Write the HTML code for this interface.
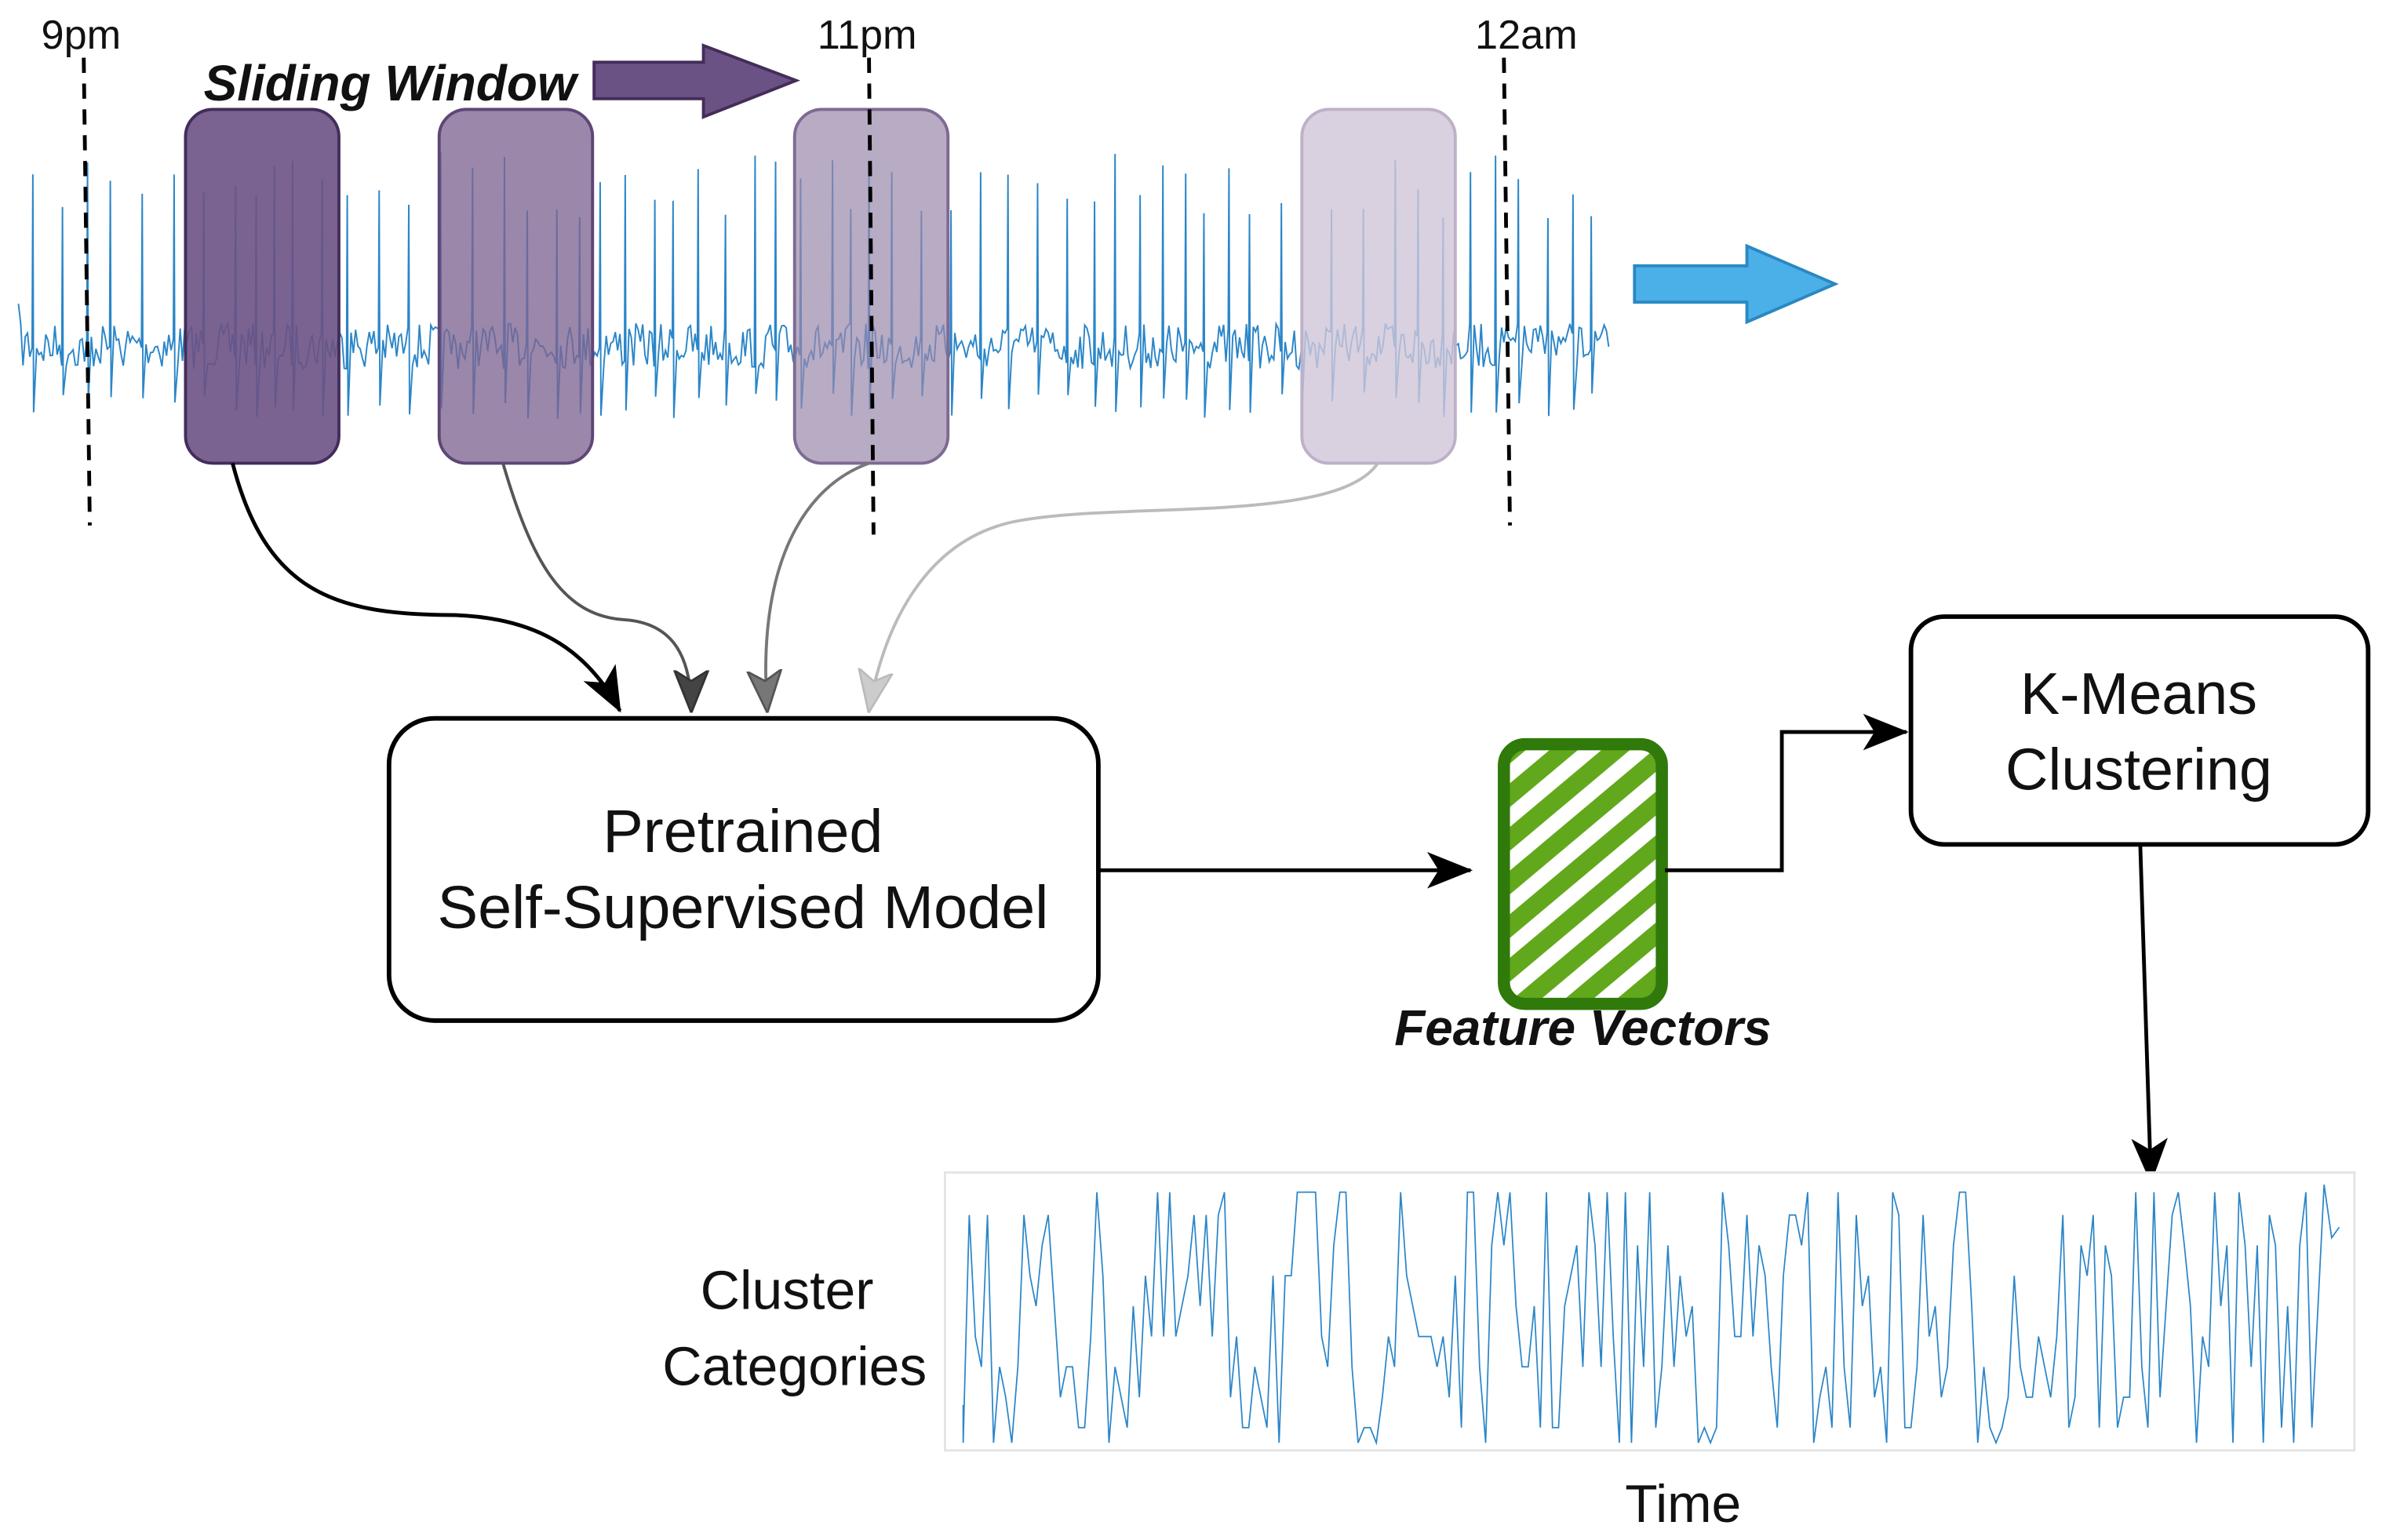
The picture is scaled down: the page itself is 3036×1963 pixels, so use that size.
<!DOCTYPE html>
<html><head><meta charset="utf-8"><style>
html,body{margin:0;padding:0;background:#fff;}
svg{display:block;}
text{font-family:"Liberation Sans",sans-serif;fill:#111;}
</style></head><body>
<svg id="s" width="3036" height="1963" viewBox="0 0 1568 1014" xmlns="http://www.w3.org/2000/svg">
<defs>
<marker id="mb" viewBox="0 0 20 20" refX="19" refY="10" markerWidth="30" markerHeight="30" markerUnits="userSpaceOnUse" orient="auto"><path d="M0,2 L20,10 L0,18 L5,10 Z" fill="#000"/></marker>
<marker id="m1" viewBox="0 0 20 20" refX="19" refY="10" markerWidth="28" markerHeight="28" markerUnits="userSpaceOnUse" orient="auto"><path d="M0,2 L20,10 L0,18 L5,10 Z" fill="#444" stroke="#333"/></marker>
<marker id="m2" viewBox="0 0 20 20" refX="19" refY="10" markerWidth="28" markerHeight="28" markerUnits="userSpaceOnUse" orient="auto"><path d="M0,2 L20,10 L0,18 L5,10 Z" fill="#777" stroke="#555"/></marker>
<marker id="m3" viewBox="0 0 20 20" refX="19" refY="10" markerWidth="28" markerHeight="28" markerUnits="userSpaceOnUse" orient="auto"><path d="M0,2 L20,10 L0,18 L5,10 Z" fill="#ccc" stroke="#bbb"/></marker>
<pattern id="hatch" width="22" height="22" patternUnits="userSpaceOnUse" patternTransform="rotate(-40)"><rect width="22" height="22" fill="#fff"/><rect width="22" height="12" fill="#62a81c"/></pattern>
</defs>
<g id="ecg"></g>
<rect x="122" y="72" width="101" height="233" rx="18" fill="#6b5284" fill-opacity="0.9" stroke="#432d5a" stroke-width="2"/>
<rect x="289" y="72" width="101" height="233" rx="18" fill="#7d6592" fill-opacity="0.78" stroke="#5e4675" stroke-width="2"/>
<rect x="523" y="72" width="101" height="233" rx="18" fill="#9a87ab" fill-opacity="0.7" stroke="#7e6a92" stroke-width="2"/>
<rect x="857" y="72" width="101" height="233" rx="18" fill="#cfc5d8" fill-opacity="0.8" stroke="#bdb0c8" stroke-width="2"/>
<g stroke="#000" stroke-width="2.5" stroke-dasharray="10,7">
<line x1="55" y1="38" x2="59" y2="346"/>
<line x1="572" y1="38" x2="575" y2="352"/>
<line x1="990" y1="38" x2="994" y2="346"/>
</g>
<text x="27" y="32" font-size="27">9pm</text>
<text x="538" y="32" font-size="27">11pm</text>
<text x="971" y="32" font-size="27">12am</text>
<text x="134" y="66" font-size="33" font-weight="bold" font-style="italic">Sliding Window</text>
<path d="M391,41 L463,41 L463,30 L524,53 L463,77 L463,65 L391,65 Z" fill="#6b5284" stroke="#432d5a" stroke-width="2"/>
<path d="M1076,175 L1150,175 L1150,162 L1208,187 L1150,212 L1150,199 L1076,199 Z" fill="#4cb0e8" stroke="#2a88c2" stroke-width="2"/>
<path d="M153,305 C175,390 220,405 300,405 C350,407 385,425 408,468" fill="none" stroke="#000" stroke-width="2.5" marker-end="url(#mb)"/>
<path d="M331,305 C350,370 370,405 410,408 C445,410 455,435 455,468" fill="none" stroke="#555" stroke-width="2" marker-end="url(#m1)"/>
<path d="M572,305 C530,320 498,370 505,468" fill="none" stroke="#777" stroke-width="2" marker-end="url(#m2)"/>
<path d="M907,305 C880,345 740,330 670,343 C605,355 580,420 572,468" fill="none" stroke="#bbb" stroke-width="2" marker-end="url(#m3)"/>
<rect x="256" y="473" width="467" height="199" rx="30" fill="#fff" stroke="#000" stroke-width="3"/>
<text x="489" y="561" font-size="40" text-anchor="middle">Pretrained</text>
<text x="489" y="611" font-size="40" text-anchor="middle">Self-Supervised Model</text>
<line x1="723" y1="573" x2="968" y2="573" stroke="#000" stroke-width="2.5" marker-end="url(#mb)"/>
<rect x="990" y="490" width="104" height="171" rx="14" fill="url(#hatch)" stroke="#2f7a0a" stroke-width="8"/>
<text x="1042" y="688" font-size="33" font-weight="bold" font-style="italic" text-anchor="middle">Feature Vectors</text>
<path d="M1096,573 L1173,573 L1173,482 L1255,482" fill="none" stroke="#000" stroke-width="2.5" marker-end="url(#mb)"/>
<rect x="1258" y="406" width="301" height="150" rx="22" fill="#fff" stroke="#000" stroke-width="3"/>
<text x="1408" y="470" font-size="39" text-anchor="middle">K-Means</text>
<text x="1408" y="520" font-size="39" text-anchor="middle">Clustering</text>
<line x1="1409" y1="557" x2="1416" y2="778" stroke="#000" stroke-width="2.5" marker-end="url(#mb)"/>
<rect x="622" y="772" width="928" height="183" fill="#fff" stroke="#e4e4e4" stroke-width="1.5"/>
<g id="cl"></g>
<text x="518" y="862" font-size="36" text-anchor="middle">Cluster</text>
<text x="523" y="912" font-size="36" text-anchor="middle">Categories</text>
<text x="1108" y="1002" font-size="35" text-anchor="middle">Time</text>
</svg>
<script>
var seed=7;function r(){seed=(seed*16807)%2147483647;return (seed-1)/2147483646;}
var d="M12,200";var x=12;var next=20;
while(x<1058){
 var nx=x+1.5; d+=" L"+nx.toFixed(1)+","+(228+(r()-0.5)*30).toFixed(1); x=nx;
 if(x>=next){d+=" L"+(x+0.5).toFixed(1)+","+(100+r()*45).toFixed(1)+" L"+(x+1).toFixed(1)+","+(258+r()*18).toFixed(1);x+=1.5;next=x+9+r()*10;}
}
var p=document.createElementNS("http://www.w3.org/2000/svg","path");p.setAttribute("d",d);p.setAttribute("fill","none");p.setAttribute("stroke","#2b86c8");p.setAttribute("stroke-width","1");document.getElementById("ecg").insertBefore(p,null);
var lv=[785,800,820,840,860,880,900,920,940,950];var c="M634,925";
for(var xx=634;xx<1525;xx+=4){c+=" L"+xx+","+(lv[Math.floor(r()*10)]);}
c+=" L1530,780 L1535,815 L1540,808";
var q=document.createElementNS("http://www.w3.org/2000/svg","path");q.setAttribute("d",c);q.setAttribute("fill","none");q.setAttribute("stroke","#2b86c8");q.setAttribute("stroke-width","0.9");document.getElementById("cl").appendChild(q);
</script>
</body></html>
